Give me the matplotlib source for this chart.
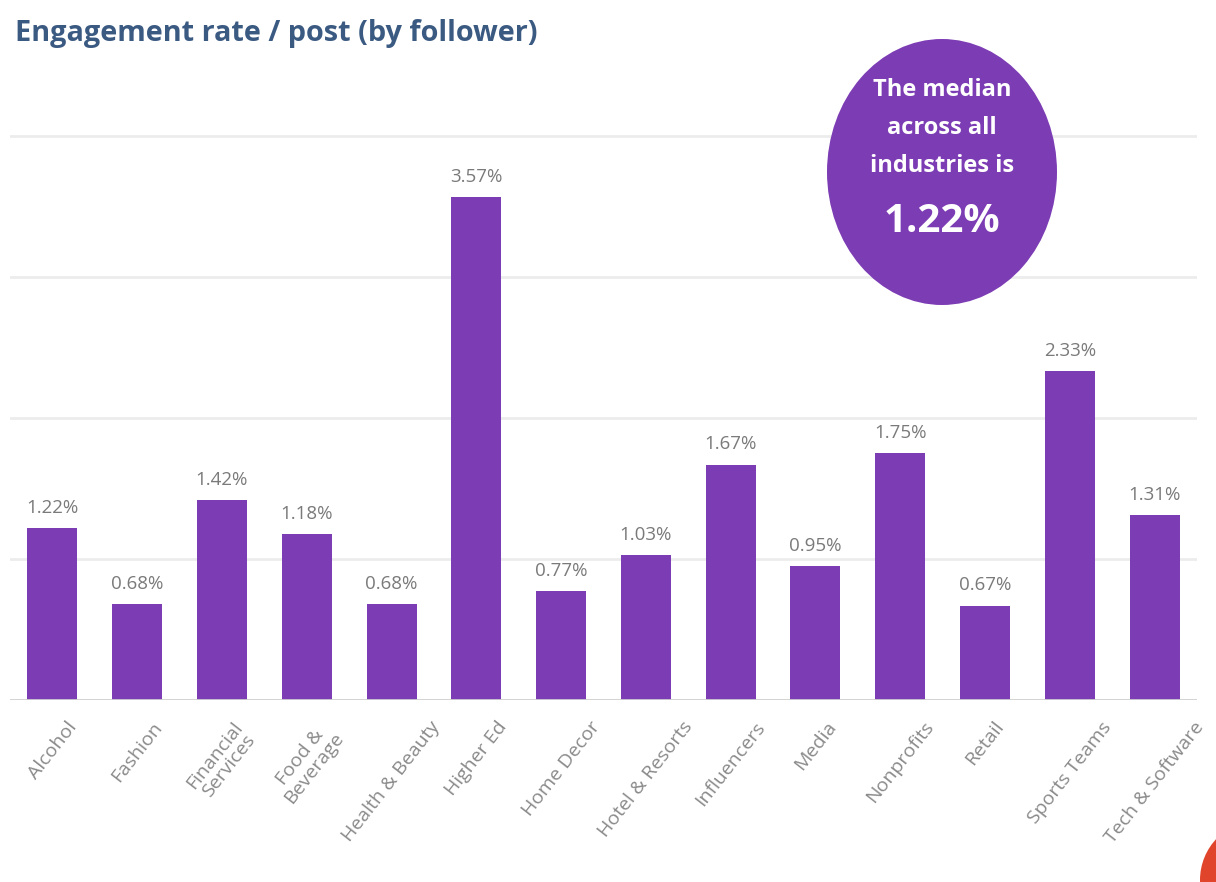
import matplotlib
matplotlib.use('Agg')
import matplotlib.pyplot as plt
from matplotlib.patches import Ellipse, Circle
import numpy as np

plt.rcParams['font.family'] = ['Open Sans', 'DejaVu Sans']

# 数据
industries = ['Alcohol', 'Fashion', 'Financial\nServices', 'Food &\nBeverage',
              'Health & Beauty', 'Higher Ed', 'Home Decor', 'Hotel & Resorts',
              'Influencers', 'Media', 'Nonprofits', 'Retail', 'Sports Teams',
              'Tech & Software']
rates = [1.22, 0.68, 1.42, 1.18, 0.68, 3.57, 0.77, 1.03, 1.67, 0.95, 1.75, 0.67, 2.33, 1.31]
median_rate = 1.22
median_lines = ['The median', 'across all', 'industries is']
grid_levels = [1, 2, 3, 4]

W, H = 1216, 882
fig = plt.figure(figsize=(W / 100, H / 100), dpi=100)
fig.patch.set_facecolor('white')

# 坐标轴位置（按像素换算）
ax_left, ax_right = 10, 1197
ax_bottom, ax_top = 700, 129
ax = fig.add_axes([ax_left / W, 1 - ax_bottom / H,
                   (ax_right - ax_left) / W, (ax_bottom - ax_top) / H])

x = np.arange(len(industries))
bar_color = '#7c3cb4'
ax.bar(x, rates, width=0.59, color=bar_color, zorder=3)

ax.set_xlim(-0.5, len(industries) - 0.5)
ax.set_ylim(0, 4.05)

# 网格线
for g in grid_levels:
    ax.axhline(g, color='#ececec', linewidth=2, zorder=1)
ax.axhline(0, color='#cfcfcf', linewidth=2, zorder=4)

for s in ax.spines.values():
    s.set_visible(False)
ax.set_yticks([])
ax.tick_params(axis='x', length=0, pad=13)
ax.set_xticks(x)
# 标签以刻度为中心旋转
ax.set_xticklabels(industries, rotation=52, ha='center', va='top',
                   fontsize=14, color='#8a8a8a', linespacing=1.0)

# 柱顶数值
for xi, v in zip(x, rates):
    ax.annotate(f'{v:.2f}%', (xi, v), xytext=(0, 8), textcoords='offset points',
                ha='center', va='bottom', fontsize=13.5, color='#7a7a7a', zorder=5)

# 标题
fig.text(15 / W, 1 - 34 / H, 'Engagement rate / post (by follower)',
         fontsize=20.8, fontweight='bold', color='#3b5a82', ha='left', va='center')

# 中位数圆圈
ell = Ellipse((942, H - 172), 230, 266, transform=None, facecolor='#7c3cb4',
              edgecolor='none', zorder=10)
fig.patches.append(ell)
for line, ypx in zip(median_lines, [90, 128, 166]):
    fig.text(942 / W, 1 - ypx / H, line, ha='center', va='center',
             fontsize=17, fontweight='bold', color='white', zorder=11)
fig.text(942 / W, 1 - 221 / H, f'{median_rate:.2f}%', ha='center', va='center',
         fontsize=29, fontweight='bold', color='white', zorder=11)

# 右下角红色圆弧
corner = Circle((1260, H - 880), 60, transform=None, facecolor='#e0452b',
                edgecolor='none', zorder=10)
fig.patches.append(corner)

fig.savefig('out.png', dpi=100, facecolor='white')
